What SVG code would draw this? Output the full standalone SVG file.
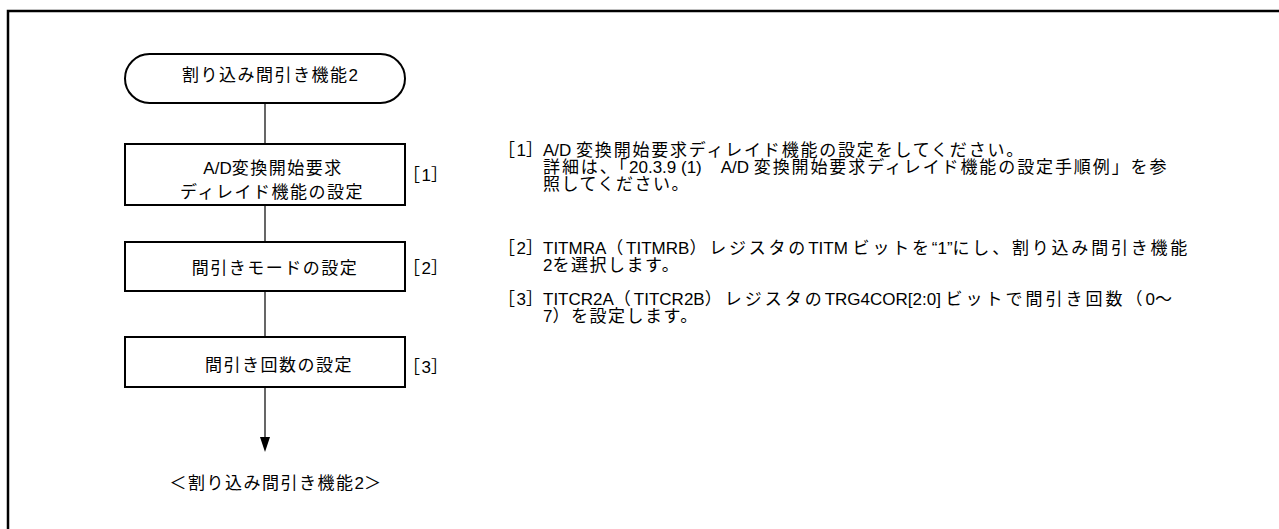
<svg xmlns="http://www.w3.org/2000/svg" width="1279" height="529" viewBox="0 0 1279 529">
<defs>
<style>
text{font-family:"Liberation Sans","Noto Sans CJK JP",sans-serif;font-size:17px;letter-spacing:1.5px;fill:#000}
.m{text-anchor:middle}
.l{letter-spacing:0}
.j1{letter-spacing:1.8px}
.j2{letter-spacing:1.9px}
.j4{letter-spacing:2.8px}
.j6{letter-spacing:3px}
.node{fill:#fff;stroke:#000;stroke-width:2}
.conn{stroke:#000;stroke-width:1.2;fill:none}
</style>
</defs>
<rect x="0" y="0" width="1279" height="529" fill="#fff"/>
<path d="M8,529 V11 H1279" fill="none" stroke="#000" stroke-width="2.5"/>
<g id="connectors">
<line class="conn" x1="265" y1="103" x2="265" y2="144"/>
<line class="conn" x1="265" y1="205" x2="265" y2="242"/>
<line class="conn" x1="265" y1="291" x2="265" y2="337"/>
<line class="conn" x1="265" y1="387" x2="265" y2="438"/>
<polygon points="260,437 270,437 265,452" fill="#000"/>
</g>
<g id="start">
<rect class="node" x="125" y="54" width="280" height="49" rx="24.5" ry="24.5"/>
<text class="m" x="270" y="81">割り込み間引き機能<tspan class="l">2</tspan></text>
</g>
<g id="step1">
<rect class="node" x="125" y="144" width="280" height="61"/>
<text class="m" x="273" y="174"><tspan class="l">A/D</tspan>変換開始要求</text>
<text class="m" x="272" y="198">ディレイド機能の設定</text>
<text x="403" y="181">［<tspan class="l">1</tspan>］</text>
</g>
<g id="step2">
<rect class="node" x="125" y="242" width="280" height="49"/>
<text class="m" x="275" y="274">間引きモードの設定</text>
<text x="403" y="274">［<tspan class="l">2</tspan>］</text>
</g>
<g id="step3">
<rect class="node" x="125" y="337" width="280" height="50"/>
<text class="m" x="279" y="371">間引き回数の設定</text>
<text x="403" y="373">［<tspan class="l">3</tspan>］</text>
</g>
<g id="end">
<text class="m" x="276" y="489">＜割り込み間引き機能<tspan class="l">2</tspan>＞</text>
</g>
<g id="notes">
<text x="498" y="156">［<tspan class="l">1</tspan>］</text>
<text class="j1" x="543" y="156"><tspan class="l">A/D </tspan>変換開始要求ディレイド機能の設定をしてください。</text>
<text class="j2" x="543" y="173">詳細は、「<tspan class="l">20.3.9 (1)</tspan>　<tspan class="l">A/D </tspan>変換開始要求ディレイド機能の設定手順例」を参</text>
<text x="543" y="190">照してください。</text>
<text x="498" y="254">［<tspan class="l">2</tspan>］</text>
<text class="j4" x="543" y="254"><tspan class="l">TITMRA</tspan>（<tspan class="l">TITMRB</tspan>）レジスタの<tspan class="l">TITM </tspan>ビットを<tspan class="l">“1”</tspan>にし、割り込み間引き機能</text>
<text x="543" y="271"><tspan class="l">2</tspan>を選択します。</text>
<text x="498" y="305">［<tspan class="l">3</tspan>］</text>
<text class="j6" x="543" y="305"><tspan class="l">TITCR2A</tspan>（<tspan class="l">TITCR2B</tspan>）レジスタの<tspan class="l">TRG4COR[2:0] </tspan>ビットで間引き回数（<tspan class="l">0</tspan>～</text>
<text x="543" y="322"><tspan class="l">7</tspan>）を設定します。</text>
</g>
</svg>
